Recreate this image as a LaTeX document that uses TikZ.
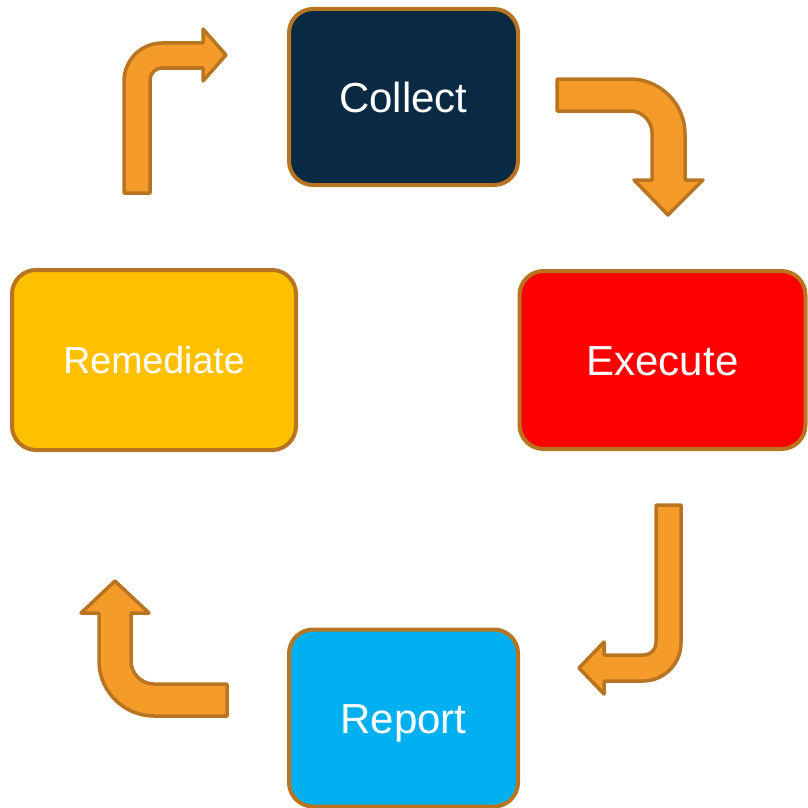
\documentclass[tikz,border=0pt]{standalone}
\usepackage{fontspec}
\setmainfont{Liberation Sans}
\definecolor{arrowfill}{HTML}{F49B2A}
\definecolor{brownline}{HTML}{B87420}
\definecolor{navyfill}{HTML}{0A2A44}
\definecolor{redfill}{HTML}{FF0000}
\definecolor{bluefill}{HTML}{00B0F0}
\definecolor{goldfill}{HTML}{FFC000}
\tikzset{
  stagebox/.style={rectangle, rounded corners=24pt, draw=brownline, line width=4pt,
    text=white, inner sep=0pt, text depth=0pt, align=center},
  bigtext/.style={font=\fontsize{42}{50}\selectfont, text height=30pt},
  midtext/.style={font=\fontsize{37.5}{45}\selectfont, text height=26.8pt},
  bentarrow/.style={fill=arrowfill, draw=brownline, line width=3.5pt, line join=round}
}
\begin{document}
\begin{tikzpicture}[x=1pt,y=-1pt]
\useasboundingbox (0,0) rectangle (807,808);
% boxes
\node[stagebox, bigtext, fill=navyfill, minimum width=229pt, minimum height=176pt] (collect) at (403.5,97) {Collect};
\node[stagebox, bigtext, fill=redfill, minimum width=286pt, minimum height=178pt] (execute) at (662.5,360) {Execute};
\node[stagebox, bigtext, fill=bluefill, minimum width=229pt, minimum height=177pt] (report) at (403.5,718) {Report};
\node[stagebox, midtext, fill=goldfill, minimum width=284pt, minimum height=180pt] (remediate) at (154,360) {Remediate};
% top-left arrow (Remediate -> Collect)
\draw[bentarrow] (124,193) -- (124,81) .. controls (124,60.1) and (141.1,43) .. (162,43)
  -- (203,43) -- (203,29) -- (226,55) -- (203,81) -- (203,68) -- (162,68)
  .. controls (155.4,68) and (150,73.4) .. (150,80) -- (150,193) -- cycle;
% top-right arrow (Collect -> Execute)
\draw[bentarrow] (557,79) -- (630,79) .. controls (660.25,79) and (685,103.75) .. (685,134)
  -- (685,180) -- (703,180) -- (668,215) -- (634,180) -- (652,180) -- (652,133)
  .. controls (652,120.9) and (642.1,111) .. (630,111) -- (557,111) -- cycle;
% bottom-right arrow (Execute -> Report)
\draw[bentarrow] (656,505) -- (681,505) -- (681,643) .. controls (681,663.9) and (663.9,681) .. (643,681)
  -- (604,681) -- (604,694) -- (579,668) -- (604,642) -- (604,655) -- (644,655)
  .. controls (650.6,655) and (656,649.4) .. (656,643) -- cycle;
% bottom-left arrow (Report -> Remediate)
\draw[bentarrow] (227,684) -- (154,684) .. controls (141.35,684) and (131,673.65) .. (131,661)
  -- (131,613) -- (149,613) -- (115,581) -- (81,613) -- (99,613) -- (99,661)
  .. controls (99,691.25) and (123.75,716) .. (154,716) -- (227,716) -- cycle;
\end{tikzpicture}
\end{document}
